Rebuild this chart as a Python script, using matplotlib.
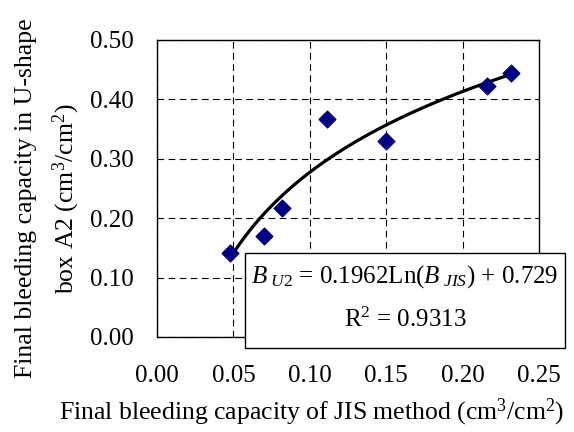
import numpy as np
import matplotlib
matplotlib.use("Agg")
import matplotlib.pyplot as plt
from matplotlib.patches import Rectangle

plt.rcParams['font.family'] = 'Liberation Serif'
plt.rcParams['mathtext.fontset'] = 'custom'
plt.rcParams['mathtext.rm'] = 'Liberation Serif'
plt.rcParams['mathtext.it'] = 'Liberation Serif:italic'

# measured points
b_jis = [0.048, 0.070, 0.082, 0.111, 0.150, 0.216, 0.232]
b_u2 = [0.141, 0.170, 0.217, 0.367, 0.330, 0.423, 0.444]

# log trendline from the chart's equation
coef_a = 0.1962
coef_b = 0.729
r2 = 0.9313

xticks = [0.00, 0.05, 0.10, 0.15, 0.20, 0.25]
yticks = [0.00, 0.10, 0.20, 0.30, 0.40, 0.50]

fig = plt.figure(figsize=(5.74, 4.32), dpi=100)
ax = fig.add_axes([0.2735, 0.22, 0.6655, 0.6875])

xs = np.linspace(min(b_jis), max(b_jis), 60)
ax.plot(xs, coef_a * np.log(xs) + coef_b, color='black', lw=2.3, zorder=3)
ax.scatter(b_jis, b_u2, marker='D', s=8.5**2, color='#000080', zorder=4)

ax.set_xlim(0, 0.25)
ax.set_ylim(0, 0.5)
ax.set_xticks(xticks)
ax.set_yticks(yticks)
ax.set_xticklabels(['%.2f' % v for v in xticks])
ax.set_yticklabels(['%.2f' % v for v in yticks])
ax.tick_params(length=0, labelsize=18)
ax.tick_params(axis='x', pad=20)
ax.tick_params(axis='y', pad=17)
ax.grid(True, color='black', linestyle=(0, (6, 4)), lw=0.8)
for s in ax.spines.values():
    s.set_linewidth(1.0)

ax.set_xlabel('Final bleeding capacity of JIS method (cm$^3$/cm$^2$)', fontsize=18.5,
              va='center')
ax.xaxis.set_label_coords(0.406, -0.2525)
ax.set_ylabel('Final bleeding capacity in U-shape\nbox A2 (cm$^3$/cm$^2$)', fontsize=18.5,
              linespacing=1.6, va='center')
ax.yaxis.set_label_coords(-0.285, 0.467)

box = Rectangle((0.2304, -0.037), 0.8376, 0.3198, transform=ax.transAxes,
                facecolor='white', edgecolor='black', lw=1.0, clip_on=False, zorder=5)
ax.add_patch(box)
ax.text(0.649, 0.203, r'$B_{\ U2}$ = 0.1962Ln($B_{\ JIS}$) + 0.729', transform=ax.transAxes,
        ha='center', va='center', fontsize=18, zorder=6)
ax.text(0.649, 0.058, 'R$^2$ = %.4f' % r2, transform=ax.transAxes,
        ha='center', va='center', fontsize=18, zorder=6)

fig.savefig('out.png', dpi=100)
